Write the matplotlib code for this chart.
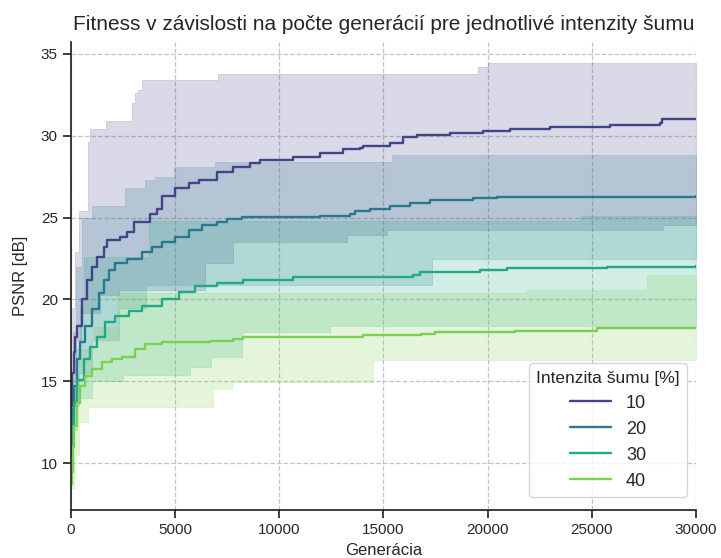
import numpy as np
import matplotlib.pyplot as plt
import seaborn as sns

noise_levels = [10, 20, 30, 40]

# priemerne PSNR najlepsieho jedinca (schodovita krivka)
gen_10 = [0, 60, 120, 190, 290, 530, 770, 1010, 1250, 1580, 1730, 2350, 2690, 3020, 3790, 4130, 4370, 4990,
          5660, 6140, 7010, 7780, 8590, 9070, 10660, 11950, 13060, 13870, 14020, 15310, 15940, 16610, 18190,
          19780, 21070, 22990, 25870, 28270, 28370, 30000]
psnr_10 = [13.5, 15.5, 16.8, 17.7, 18.35, 20.0, 21.2, 22.0, 22.6, 23.2, 23.65, 23.8, 24.1, 24.75, 25.2, 25.5,
           26.3, 26.8, 27.1, 27.3, 27.8, 28.1, 28.35, 28.5, 28.7, 28.96, 29.2, 29.27, 29.4, 29.57, 29.9, 30.06,
           30.2, 30.3, 30.4, 30.55, 30.67, 30.8, 31.0, 31.05]

gen_20 = [0, 50, 140, 290, 430, 670, 1010, 1340, 1580, 1820, 2110, 2690, 3410, 3890, 4370, 4990, 5660, 6290,
          7010, 7490, 8210, 11950, 13390, 13630, 14350, 15310, 16270, 17230, 19300, 20450, 30000]
psnr_20 = [11.5, 13.3, 14.7, 16.35, 17.4, 18.35, 19.4, 20.4, 21.2, 21.8, 22.25, 22.44, 22.87, 23.2, 23.5,
           23.84, 24.27, 24.57, 24.75, 24.94, 25.06, 25.12, 25.2, 25.43, 25.5, 25.7, 25.9, 26.1, 26.2, 26.28, 26.3]

gen_30 = [0, 50, 140, 290, 620, 910, 1250, 1630, 2110, 2780, 3410, 4370, 5180, 5950, 7010, 8260, 10660,
          12290, 16420, 16750, 19630, 20930, 25250, 25730, 30000]
psnr_30 = [10.5, 12.26, 13.7, 15.1, 16.35, 17.1, 17.7, 18.6, 18.96, 19.27, 19.57, 20.0, 20.43, 20.8, 21.0,
           21.2, 21.34, 21.4, 21.5, 21.65, 21.77, 21.9, 21.95, 22.0, 22.02]

gen_40 = [0, 50, 100, 140, 290, 430, 670, 1010, 1490, 1970, 2450, 3070, 3550, 4370, 6670, 7780, 8260, 14000,
          16800, 17470, 21310, 25250, 30000]
psnr_40 = [8.7, 9.45, 11.0, 12.26, 13.7, 14.7, 15.3, 15.73, 16.16, 16.35, 16.5, 16.95, 17.26, 17.38, 17.44,
           17.6, 17.68, 17.8, 17.87, 18.0, 18.1, 18.23, 18.25]

# min / max cez vsetky behy
hi_gen_10 = [0, 190, 380, 820, 910, 1680, 2930, 3070, 3220, 3410, 7060, 19540, 20020]
hi_10 = [19.5, 22.9, 25.4, 29.6, 30.4, 30.9, 32.0, 32.6, 32.8, 33.4, 33.8, 34.2, 34.45]
lo_gen_10 = [0, 100, 250, 500, 1400, 2300, 6430, 7780, 13250, 15170, 28420]
lo_10 = [12.5, 15.0, 17.5, 19.2, 20.3, 20.6, 22.25, 23.5, 23.96, 24.27, 24.57]

hi_gen_20 = [0, 100, 250, 530, 1010, 2590, 3550, 4030, 4940, 6910, 15410]
hi_20 = [14.5, 18.0, 22.0, 25.0, 25.7, 26.8, 27.3, 27.5, 28.1, 28.4, 28.8]
lo_gen_20 = [0, 150, 400, 1000, 2300, 3600, 17330]
lo_20 = [11.0, 13.5, 15.5, 17.5, 19.5, 20.9, 22.44]

hi_gen_30 = [0, 100, 250, 450, 620, 3750, 24430]
hi_30 = [11.5, 14.5, 17.0, 19.5, 22.6, 24.8, 25.12]
lo_gen_30 = [0, 100, 300, 1000, 2500, 5700, 6700, 8200, 12430]
lo_30 = [9.5, 12.0, 14.0, 15.0, 15.4, 15.9, 16.5, 18.0, 18.35]

hi_gen_40 = [0, 100, 400, 1100, 2200, 21900, 27650]
hi_40 = [10.0, 15.0, 17.0, 18.3, 20.4, 20.6, 21.5]
lo_gen_40 = [0, 150, 400, 800, 6800, 7750, 14500]
lo_40 = [8.5, 10.5, 12.5, 13.4, 14.5, 14.94, 16.3]

MAX_GEN = 30000


def step_values(xs, ys, grid):
    # hodnota schodovej funkcie v bodoch grid
    idx = np.searchsorted(xs, grid, side="right") - 1
    return np.asarray(ys)[idx]


sns.set_theme(style="ticks", context="notebook")
plt.rcParams["font.family"] = ["Liberation Sans", "DejaVu Sans"]

fig, ax = plt.subplots(figsize=(7.21, 5.58), dpi=100)
fig.subplots_adjust(left=0.0985, right=0.9653, top=0.9247, bottom=0.086)

colors = sns.color_palette("viridis", 4)
series = [
    (gen_10, psnr_10, lo_gen_10, lo_10, hi_gen_10, hi_10),
    (gen_20, psnr_20, lo_gen_20, lo_20, hi_gen_20, hi_20),
    (gen_30, psnr_30, lo_gen_30, lo_30, hi_gen_30, hi_30),
    (gen_40, psnr_40, lo_gen_40, lo_40, hi_gen_40, hi_40),
]

for level, color, (g, p, lg, lo, hg, hi) in zip(noise_levels, colors, series):
    grid = np.union1d(np.union1d(lg, hg), [MAX_GEN])
    low = step_values(lg, lo, grid)
    high = step_values(hg, hi, grid)
    ax.fill_between(grid, low, high, step="post", color=color, alpha=0.2, linewidth=0.6)
    ax.plot(g, p, drawstyle="steps-post", color=color, linewidth=1.7, label=str(level))

ax.set_xlim(0, MAX_GEN)
ax.set_ylim(7.13, 35.73)
ax.set_xticks(range(0, 30001, 5000))
ax.set_yticks(range(10, 36, 5))
ax.grid(True, linestyle="--", color="#c4c4c4", linewidth=0.9)
ax.set_axisbelow(True)
sns.despine(ax=ax)

ax.set_title("Fitness v závislosti na počte generácií pre jednotlivé intenzity šumu", fontsize=15, pad=9)
ax.set_xlabel("Generácia", fontsize=12)
ax.set_ylabel("PSNR [dB]", fontsize=12, labelpad=9)

ax.legend(title="Intenzita šumu [%]", loc="lower right", bbox_to_anchor=(0.9856, 0.0278), borderaxespad=0,
          fontsize=13, title_fontsize=12.5, handlelength=2.3, labelspacing=0.5)

plt.savefig("out.png", dpi=100)
